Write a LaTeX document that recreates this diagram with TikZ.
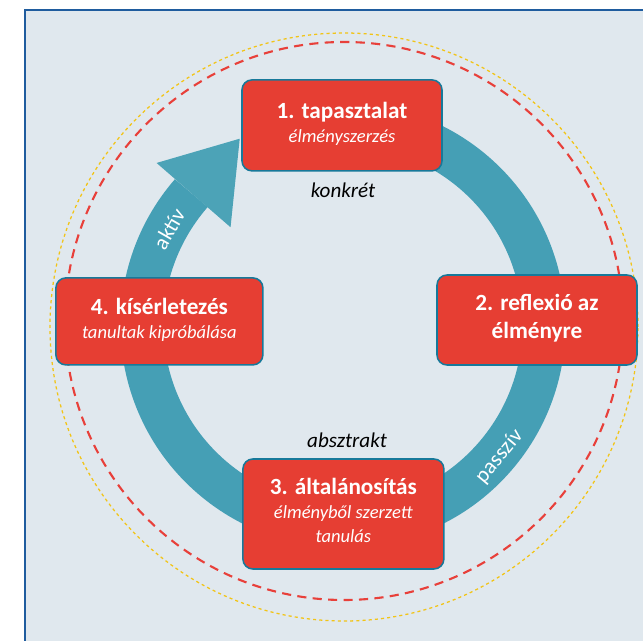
\documentclass[tikz,border=0pt]{standalone}
\usepackage{fontspec}
\setmainfont{Carlito}
\usetikzlibrary{calc}

\definecolor{panelbg}{HTML}{E0E8EE}
\definecolor{panelline}{HTML}{1F5C9E}
\definecolor{ringteal}{HTML}{459FB5}
\definecolor{headteal}{HTML}{4CA3B7}
\definecolor{stagered}{HTML}{E63E33}
\definecolor{stageline}{HTML}{17799A}
\definecolor{dashred}{HTML}{E8403A}
\definecolor{dotyellow}{HTML}{F2C416}

\tikzset{
    stage/.style={rectangle, fill=stagered, draw=stageline, line width=1.1pt, rounded corners=0.25cm,
        text=white, inner sep=2pt, font=\fontsize{13.2}{17}\selectfont},
    pole/.style={font=\fontsize{15}{18}\selectfont\itshape},
    mode/.style={text=white, font=\fontsize{15.5}{18}\selectfont},
}
\newcommand{\stagetitle}[1]{{\fontsize{16.5}{17}\selectfont\bfseries #1}}

\begin{document}
\begin{tikzpicture}
    \useasboundingbox (-8.575, -7.9) rectangle (7.5, 8.125);
    \coordinate (c) at (0, 0);

    % panel
    \fill[panelbg] (-7.95, 7.875) rectangle (8, -8.5);
    \draw[panelline, line width=1.1pt] (8, 7.875) -- (-7.95, 7.875) -- (-7.95, -8.5);

    % outer rings
    \draw[dotyellow, line width=0.9pt, dash pattern=on 2.2pt off 2.2pt] ($(c)+(0.025, -0.05)$) circle[radius=7.35];
    \draw[dashred, line width=1.5pt, dash pattern=on 6.5pt off 4.5pt] ($(c)+(0.025, 0.1)$) circle[radius=6.975];

    % cycle
    \draw[ringteal, line width=1.075cm] ($(c)+(139:5.025)$) arc[start angle=139, end angle=460, radius=5.025cm];
    \fill[headteal] ($(c)+(139:3.725)$) -- ($(c)+(119:5.325)$) -- ($(c)+(139:6.175)$) -- cycle;

    \node[stage, minimum width=5cm, minimum height=2.275cm] (experience) at ($(c)+(-0.025, 4.99)$) {\begin{tabular}{c}
        \stagetitle{1. tapasztalat} \\ \textit{élményszerzés} \\
        \end{tabular}};
    \node[stage, minimum width=5cm, minimum height=2.25cm] (reflection) at ($(c)+(4.85, 0.125)$) {\begin{tabular}{c}
        \stagetitle{2. reflexió az} \\[3pt] \stagetitle{élményre} \\
        \end{tabular}};
    \node[stage, minimum width=5.025cm, minimum height=2.75cm] (generalisation) at ($(c)+(0.01, -4.725)$) {\begin{tabular}{c}
        \stagetitle{3. általánosítás} \\ \textit{élményből szerzett} \\ \textit{tanulás} \\
        \end{tabular}};
    \node[stage, minimum width=5.175cm, minimum height=2.175cm] (experiment) at ($(c)+(-4.59, 0.09)$) {\begin{tabular}{c}
        \stagetitle{4. kísérletezés} \\ \textit{tanultak kipróbálása} \\
        \end{tabular}};

    \node[pole] (concrete) at ($(c)+(0, 3.375)$) {konkrét};
    \node[pole] (abstract) at ($(c)+(0.1, -2.875)$) {absztrakt};
    \node[mode, rotate=60] (active) at ($(c)+(-4.35, 2.4)$) {aktív};
    \node[mode, rotate=50] (passive) at ($(c)+(3.91, -3.29)$) {passzív};
\end{tikzpicture}
\end{document}
